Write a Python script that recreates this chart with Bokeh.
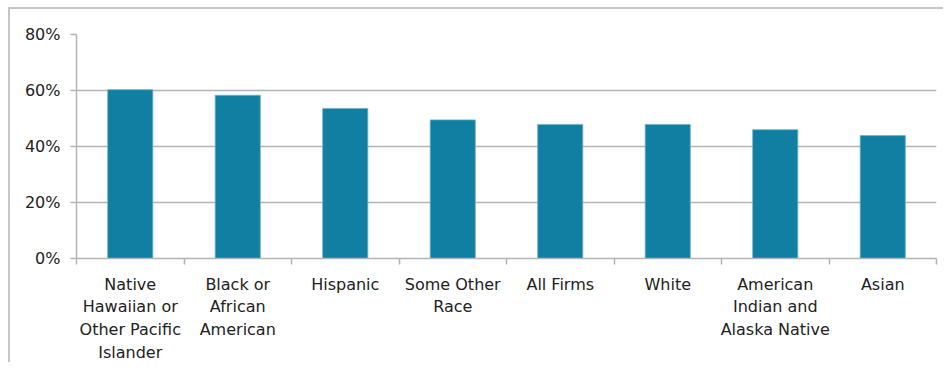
from bokeh.plotting import figure
from bokeh.models import Range1d, FixedTicker, NumeralTickFormatter, ColumnDataSource
from bokeh.embed import file_html
from bokeh.resources import INLINE

categories = ["Native\nHawaiian or\nOther Pacific\nIslander", "Black or\nAfrican\nAmerican",
              "Hispanic", "Some Other\nRace", "All Firms", "White",
              "American\nIndian and\nAlaska Native", "Asian"]
values = [0.603, 0.583, 0.536, 0.495, 0.479, 0.479, 0.460, 0.439]
y_ticks = [0.0, 0.2, 0.4, 0.6, 0.8]

positions = [i + 0.5 for i in range(len(categories))]
src = ColumnDataSource(dict(x=positions, top=values))

FONT = "DejaVu Sans"
TEXT = "#222222"
GRID = "#b4b4b4"

p = figure(width=935, height=355, output_backend="svg", toolbar_location=None,
           x_range=Range1d(0, len(categories)), y_range=Range1d(0, 0.8),
           min_border_left=66, min_border_right=9, min_border_top=25, min_border_bottom=106)
p.styles = {"margin-left": "8px", "margin-top": "7px",
            "border-left": "2px solid #c6c6c6", "border-top": "2px solid #c6c6c6"}
p.outline_line_color = None

p.vbar(x="x", top="top", width=0.42, source=src, fill_color="#107fa1",
       line_color="#6fb3c8", line_width=0.8)

# x axis
xa = p.xaxis[0]
xa.ticker = FixedTicker(ticks=positions, minor_ticks=list(range(len(categories) + 1)))
xa.major_label_overrides = {pos: lab for pos, lab in zip(positions, categories)}
xa.major_tick_out = 0
xa.major_tick_in = 0
xa.minor_tick_out = 6
xa.minor_tick_in = 0
xa.minor_tick_line_color = GRID
xa.minor_tick_line_width = 1.5
xa.axis_line_color = GRID
xa.axis_line_width = 1.5
xa.major_label_text_font = FONT
xa.major_label_text_font_size = "16px"
xa.major_label_text_color = TEXT
xa.major_label_text_line_height = 1.2
xa.major_label_standoff = 10

# y axis
ya = p.yaxis[0]
ya.ticker = FixedTicker(ticks=y_ticks)
ya.formatter = NumeralTickFormatter(format="0%")
ya.minor_tick_line_color = None
ya.major_tick_out = 6
ya.major_tick_in = 0
ya.major_tick_line_color = GRID
ya.major_tick_line_width = 1.5
ya.axis_line_color = GRID
ya.axis_line_width = 1.5
ya.major_label_text_font = FONT
ya.major_label_text_font_size = "16px"
ya.major_label_text_color = TEXT
ya.major_label_standoff = 10

p.xgrid.grid_line_color = None
p.ygrid.grid_line_color = GRID
p.ygrid.grid_line_width = 1.5
p.ygrid.ticker = FixedTicker(ticks=y_ticks[1:])

open("out.html", "w").write(file_html(p, INLINE))
